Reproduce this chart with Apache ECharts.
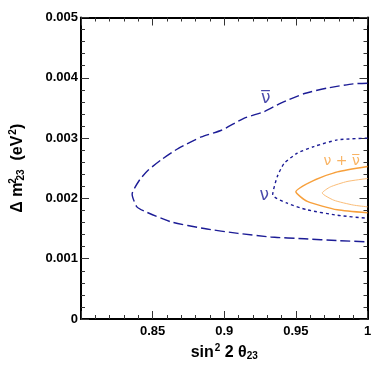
<!DOCTYPE html>
<html>
<head>
<meta charset="utf-8">
<script src="https://cdn.jsdelivr.net/npm/echarts@6/dist/echarts.min.js"></script>
<style>
  html, body { margin: 0; padding: 0; background: #fff; }
  #chart { width: 388px; height: 376px; }
</style>
</head>
<body>
<div id="chart"></div>
<script>
// contour for antineutrino running (long dashes)
const antinuContour = [
  [1.0, 0.00391], [0.990, 0.00390], [0.972, 0.00383], [0.956, 0.00374], [0.9395, 0.00358],
  [0.928, 0.00344], [0.914, 0.00333], [0.898, 0.00313], [0.884, 0.00302], [0.868, 0.00283],
  [0.856, 0.00264], [0.847, 0.00247], [0.841, 0.00231], [0.8357, 0.00207], [0.839, 0.00186],
  [0.845, 0.00178], [0.863, 0.00161], [0.886, 0.00150], [0.9096, 0.00142], [0.9326, 0.00136],
  [0.956, 0.00133], [0.979, 0.00130], [1.0, 0.00128]
];
// contour for neutrino running (short dashes)
const nuContour = [
  [1.0, 0.00300], [0.979, 0.00297], [0.9626, 0.00286], [0.951, 0.00275], [0.9418, 0.00258],
  [0.937, 0.00236], [0.9338, 0.00206], [0.944, 0.00192], [0.958, 0.00181], [0.979, 0.00172],
  [1.0, 0.00167]
];
// combined, outer and inner contours
const combinedOuter = [
  [1.0, 0.00253], [0.979, 0.00244], [0.9626, 0.00230], [0.950, 0.00211], [0.958, 0.00195],
  [0.979, 0.00181], [1.0, 0.00176]
];
const combinedInner = [
  [1.0, 0.00233], [0.9857, 0.00228], [0.974, 0.00219], [0.9684, 0.00209], [0.9765, 0.00197],
  [0.990, 0.00189], [1.0, 0.00186]
];
// label positions
const blueLabels = [['ν\u0305', 0.929, 0.00366], ['ν', 0.928, 0.00205]];
const orangeLabels = [['ν + ν\u0305', 0.982, 0.00262]];

const navy = '#1c1c96';
const orange = '#f7a03c';
const font = 'Liberation Sans, Arial, Helvetica, sans-serif';

const chart = echarts.init(document.getElementById('chart'));

const frameAxis = {
  axisLine: { show: true, onZero: false, lineStyle: { color: '#000', width: 2 } },
  axisTick: { show: true, inside: true, length: 8, lineStyle: { color: '#333', width: 1 } },
  minorTick: { show: true, splitNumber: 5, length: 4, lineStyle: { color: '#333', width: 1 } },
  splitLine: { show: false },
  minorSplitLine: { show: false }
};

const xBase = Object.assign({ type: 'value', min: 0.8, max: 1, interval: 0.05 }, frameAxis);
const yBase = Object.assign({ type: 'value', min: 0, max: 0.005, interval: 0.001 }, frameAxis);

function lineSeries(data, color, width, type) {
  return {
    type: 'line',
    data: data,
    showSymbol: false,
    smooth: 0.2,
    silent: true,
    lineStyle: { color: color, width: width, type: type },
    z: 3
  };
}

function labelSeries(items, color, size) {
  return {
    type: 'scatter',
    symbolSize: 0,
    silent: true,
    data: items.map(d => ({ value: [d[1], d[2]], name: d[0] })),
    label: {
      show: true,
      position: 'inside',
      formatter: p => p.name,
      color: color,
      fontSize: size,
      fontFamily: 'DejaVu Sans, sans-serif'
    },
    z: 4
  };
}

const option = {
  backgroundColor: '#fff',
  animation: false,
  grid: { left: 78.5, right: 20.5, top: 17.5, bottom: 57 },
  xAxis: [
    Object.assign({}, xBase, {
      position: 'bottom',
      axisLabel: {
        color: '#000', fontSize: 13, fontWeight: 'bold', fontFamily: font, margin: 6,
        formatter: v => (Math.abs(v - 0.8) < 1e-9 ? '' : String(Number(v.toFixed(2))))
      },
      name: '{n|sin}{sup|2}{n| 2 θ}{sub|23}',
      nameLocation: 'middle',
      nameGap: 20,
      nameTextStyle: {
        rich: {
          n: { fontSize: 16, fontWeight: 'bold', fontFamily: font, color: '#000' },
          sup: { fontSize: 10, fontWeight: 'bold', fontFamily: font, color: '#000', padding: [0, 0, 9, 1] },
          sub: { fontSize: 10, fontWeight: 'bold', fontFamily: font, color: '#000', padding: [8, 0, 0, 0] }
        }
      }
    }),
    Object.assign({}, xBase, { position: 'top', axisLabel: { show: false } })
  ],
  yAxis: [
    Object.assign({}, yBase, {
      position: 'left',
      axisLabel: {
        color: '#000', fontSize: 13, fontWeight: 'bold', fontFamily: font, margin: 3,
        formatter: v => String(Number(v.toFixed(3)))
      },
      name: '{n|Δ m}{sup|2}{sub|23}{n|  (eV}{sup2|2}{n|)}',
      nameLocation: 'middle',
      nameRotate: 90,
      nameGap: 54,
      nameTextStyle: {
        rich: {
          n: { fontSize: 16, fontWeight: 'bold', fontFamily: font, color: '#000' },
          sup: { fontSize: 10, fontWeight: 'bold', fontFamily: font, color: '#000', padding: [0, 0, 9, 1], width: 1 },
          sup2: { fontSize: 10, fontWeight: 'bold', fontFamily: font, color: '#000', padding: [0, 0, 9, 1] },
          sub: { fontSize: 10, fontWeight: 'bold', fontFamily: font, color: '#000', padding: [8, 0, 0, 0] }
        }
      }
    }),
    Object.assign({}, yBase, { position: 'right', axisLabel: { show: false } })
  ],
  series: [
    lineSeries(antinuContour, navy, 1.4, [10, 4]),
    lineSeries(nuContour, navy, 1.4, [3, 3]),
    lineSeries(combinedOuter, orange, 1.5, 'solid'),
    lineSeries(combinedInner, '#fbbd78', 1, 'solid'),
    labelSeries(blueLabels, navy, 17),
    labelSeries(orangeLabels, orange, 14)
  ]
};

chart.setOption(option);
</script>
</body>
</html>
